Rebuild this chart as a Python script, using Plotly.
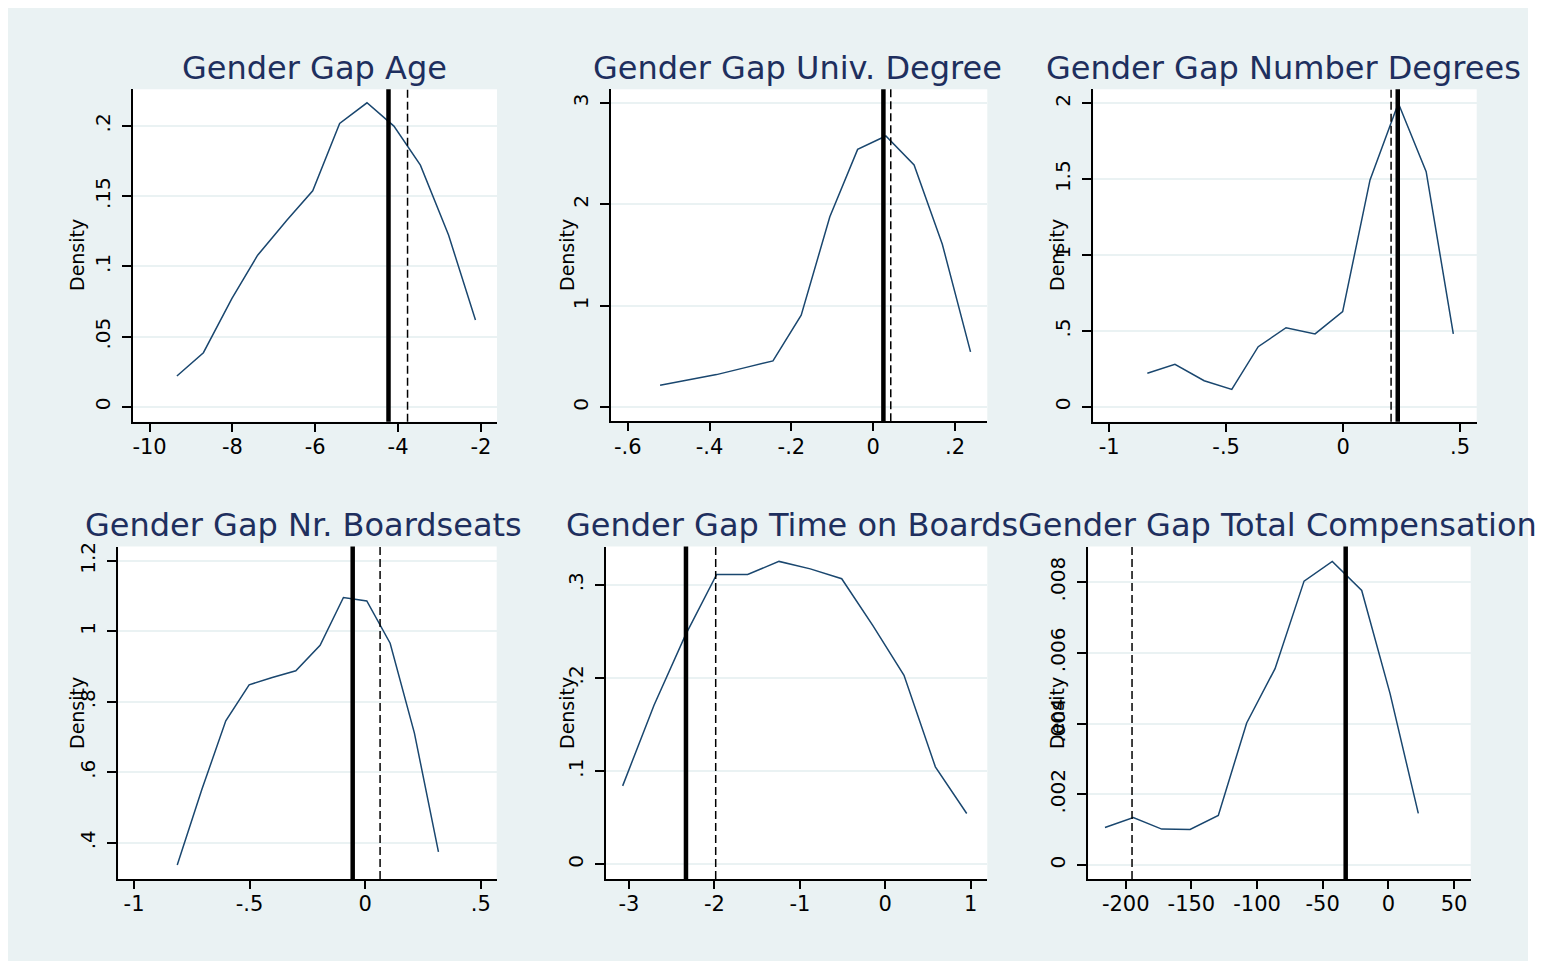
import plotly.graph_objects as go
from plotly.subplots import make_subplots

# The page body adds an 8px offset; figure is sized to fill the rest of the window
OFF = 8
W, H = 1545 - OFF, 961 - OFF


def fx(px):
    return (px - OFF) / W


def fy(py):
    return 1 - (py - OFF) / H


# ---------------- data ----------------
titles = ["Gender Gap Age", "Gender Gap Univ. Degree", "Gender Gap Number Degrees",
          "Gender Gap Nr. Boardseats", "Gender Gap Time on Boards", "Gender Gap Total Compensation"]

age_x = [-9.34, -8.70, -8.01, -7.39, -6.68, -6.06, -5.41, -4.75, -4.10, -3.46, -2.78, -2.13]
age_y = [0.022, 0.0386, 0.0773, 0.108, 0.133, 0.1538, 0.2017, 0.2164, 0.1998, 0.172, 0.1223, 0.0619]
age_solid, age_dash = -4.23, -3.77

univ_x = [-0.521, -0.452, -0.383, -0.313, -0.245, -0.176, -0.106, -0.038, 0.031, 0.100, 0.169, 0.238]
univ_y = [0.217, 0.27, 0.322, 0.391, 0.457, 0.907, 1.877, 2.541, 2.673, 2.387, 1.607, 0.546]
univ_solid, univ_dash = 0.025, 0.043

ndeg_x = [-0.837, -0.719, -0.594, -0.476, -0.363, -0.244, -0.120, -0.002, 0.115, 0.236, 0.355, 0.471]
ndeg_y = [0.222, 0.281, 0.173, 0.116, 0.397, 0.522, 0.481, 0.628, 1.495, 2.0, 1.55, 0.481]
ndeg_solid, ndeg_dash = 0.2335, 0.205

seats_x = [-0.813, -0.707, -0.603, -0.502, -0.402, -0.300, -0.195, -0.094, 0.007, 0.108, 0.213, 0.317]
seats_y = [0.337, 0.550, 0.746, 0.848, 0.869, 0.888, 0.960, 1.096, 1.086, 0.966, 0.711, 0.374]
seats_solid, seats_dash = -0.054, 0.0645

time_x = [-3.074, -2.707, -2.341, -1.974, -1.611, -1.244, -0.878, -0.510, -0.147, 0.219, 0.586, 0.953]
time_y = [0.0842, 0.1707, 0.2457, 0.311, 0.311, 0.325, 0.317, 0.3064, 0.2564, 0.2028, 0.1046, 0.0546]
time_solid, time_dash = -2.333, -1.985

comp_x = [-215.8, -194.2, -172.6, -151.0, -129.5, -107.9, -86.3, -64.2, -42.7, -20.3, 1.3, 22.8]
comp_y = [0.001063, 0.001346, 0.001016, 0.001007, 0.001402, 0.004019, 0.005553, 0.008029,
          0.008584, 0.007765, 0.004847, 0.001459]
comp_solid, comp_dash = -32.5, -195.2

age_xt = [-10, -8, -6, -4, -2]
age_xl = ["-10", "-8", "-6", "-4", "-2"]
age_yt = [0, 0.05, 0.1, 0.15, 0.2]
age_yl = ["0", ".05", ".1", ".15", ".2"]

univ_xt = [-0.6, -0.4, -0.2, 0, 0.2]
univ_xl = ["-.6", "-.4", "-.2", "0", ".2"]
univ_yt = [0, 1, 2, 3]
univ_yl = ["0", "1", "2", "3"]

ndeg_xt = [-1, -0.5, 0, 0.5]
ndeg_xl = ["-1", "-.5", "0", ".5"]
ndeg_yt = [0, 0.5, 1, 1.5, 2]
ndeg_yl = ["0", ".5", "1", "1.5", "2"]

seats_xt = [-1, -0.5, 0, 0.5]
seats_xl = ["-1", "-.5", "0", ".5"]
seats_yt = [0.4, 0.6, 0.8, 1.0, 1.2]
seats_yl = [".4", ".6", ".8", "1", "1.2"]

time_xt = [-3, -2, -1, 0, 1]
time_xl = ["-3", "-2", "-1", "0", "1"]
time_yt = [0, 0.1, 0.2, 0.3]
time_yl = ["0", ".1", ".2", ".3"]

comp_xt = [-200, -150, -100, -50, 0, 50]
comp_xl = ["-200", "-150", "-100", "-50", "0", "50"]
comp_yt = [0, 0.002, 0.004, 0.006, 0.008]
comp_yl = ["0", ".002", ".004", ".006", ".008"]

# ---------------- layout settings ----------------
panels = [
    dict(x=age_x, y=age_y, s=age_solid, d=age_dash, xt=age_xt, xl=age_xl, yt=age_yt, yl=age_yl,
         xr=[-10.4, -1.61], yr=[-0.0105, 0.226], dom=(133, 497, 89.3, 421.7)),
    dict(x=univ_x, y=univ_y, s=univ_solid, d=univ_dash, xt=univ_xt, xl=univ_xl, yt=univ_yt, yl=univ_yl,
         xr=[-0.641, 0.279], yr=[-0.138, 3.133], dom=(611, 987.3, 89.3, 421.3)),
    dict(x=ndeg_x, y=ndeg_y, s=ndeg_solid, d=ndeg_dash, xt=ndeg_xt, xl=ndeg_xl, yt=ndeg_yt, yl=ndeg_yl,
         xr=[-1.068, 0.571], yr=[-0.097, 2.092], dom=(1093.3, 1476.7, 89.3, 421.7)),
    dict(x=seats_x, y=seats_y, s=seats_solid, d=seats_dash, xt=seats_xt, xl=seats_xl, yt=seats_yt, yl=seats_yl,
         xr=[-1.068, 0.569], yr=[0.297, 1.2406], dom=(118.3, 496.7, 546.5, 879)),
    dict(x=time_x, y=time_y, s=time_solid, d=time_dash, xt=time_xt, xl=time_xl, yt=time_yt, yl=time_yl,
         xr=[-3.269, 1.194], yr=[-0.0157, 0.341], dom=(606, 987.3, 546.5, 879)),
    dict(x=comp_x, y=comp_y, s=comp_solid, d=comp_dash, xt=comp_xt, xl=comp_xl, yt=comp_yt, yl=comp_yl,
         xr=[-228.5, 62.7], yr=[-0.000395, 0.009008], dom=(1088.3, 1470.7, 546.5, 879)),
]

BG = "#eaf2f3"
LINE = "#1a476f"
TITLE = "#1e2f5e"
FONT = "DejaVu Sans"

fig = make_subplots(rows=2, cols=3)

for i, p in enumerate(panels):
    r, c = i // 3 + 1, i % 3 + 1
    fig.add_trace(go.Scatter(x=p["x"], y=p["y"], mode="lines",
                             line=dict(color=LINE, width=1.5), showlegend=False,
                             hoverinfo="skip"), row=r, col=c)
    x0, x1, ytop, ybot = p["dom"]
    ax = "" if i == 0 else str(i + 1)
    fig.layout["xaxis" + ax].update(
        domain=[fx(x0), fx(x1)], range=p["xr"], tickvals=p["xt"], ticktext=p["xl"],
        showgrid=False, zeroline=False, showline=True, linecolor="black", linewidth=2,
        ticks="outside", ticklen=8, tickwidth=1.5, tickcolor="black", ticklabelstandoff=-3,
        tickfont=dict(family=FONT, size=21, color="black"), automargin=False)
    fig.layout["yaxis" + ax].update(
        domain=[fy(ybot), fy(ytop)], range=p["yr"], tickvals=p["yt"], ticktext=p["yl"],
        showgrid=True, gridcolor=BG, gridwidth=1.5, zeroline=False,
        showline=True, linecolor="black", linewidth=2,
        ticks="outside", ticklen=9, tickwidth=1.5, tickcolor="black", tickangle=-90,
        ticklabelstandoff=4,
        tickfont=dict(family=FONT, size=20, color="black"), automargin=False)
    # reference lines
    fig.add_vline(x=p["s"], line=dict(color="black", width=4.5), row=r, col=c)
    fig.add_vline(x=p["d"], line=dict(color="black", width=1.5, dash="8px,4px"), row=r, col=c)

# titles
top_centers = [314, 797.5, 1283]
for i in range(3):
    fig.add_annotation(text=titles[i], xref="paper", yref="paper", x=fx(top_centers[i]),
                       y=fy(68), xanchor="center", yanchor="middle", showarrow=False,
                       font=dict(family=FONT, size=32, color=TITLE))
bot_boxes = [(83, 521), (564, 1015), (1016, 1541)]
for i in range(3):
    a, b = bot_boxes[i]
    fig.add_annotation(text=titles[3 + i], xref="paper", yref="paper", x=fx(a),
                       y=fy(525), xanchor="left", yanchor="middle", showarrow=False,
                       width=b - a, align="left",
                       font=dict(family=FONT, size=32, color=TITLE))

# Density labels
for xc in [77, 567, 1057]:
    for yc in [255, 713]:
        fig.add_annotation(text="Density", xref="paper", yref="paper", x=fx(xc), y=fy(yc),
                           xanchor="center", yanchor="middle", showarrow=False, textangle=-90,
                           font=dict(family=FONT, size=19, color="black"))

# white page border to the right of the graph region
fig.add_shape(type="rect", xref="paper", yref="paper", x0=fx(1528), x1=1.02,
              y0=-0.02, y1=1.02, fillcolor="white", line=dict(width=0), layer="above")

fig.update_layout(width=W, height=H, margin=dict(l=0, r=0, t=0, b=0),
                  paper_bgcolor=BG, plot_bgcolor="white", template="none",
                  showlegend=False)

fig.write_html("out.html")
